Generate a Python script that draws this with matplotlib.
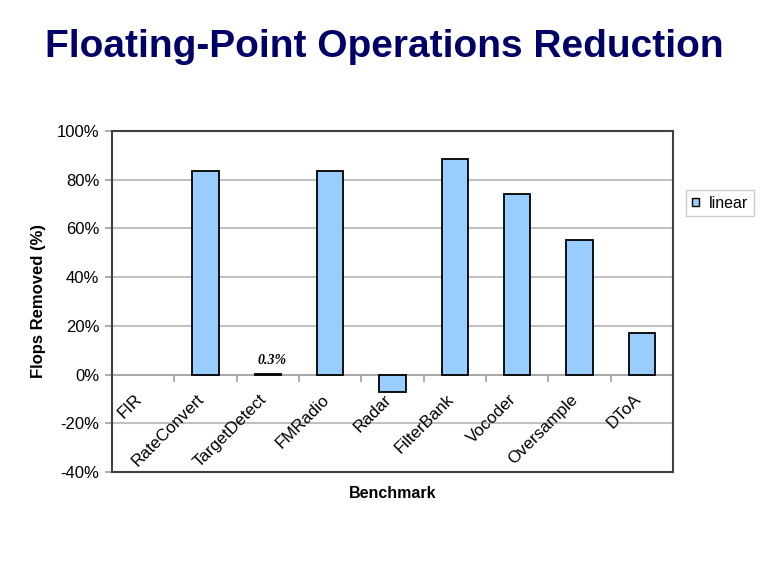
import matplotlib
matplotlib.use("Agg")
import matplotlib.pyplot as plt
import matplotlib.transforms as mtransforms
from matplotlib.patches import Rectangle, Patch
from matplotlib.ticker import FixedLocator, PercentFormatter

benchmarks = ["FIR", "RateConvert", "TargetDetect", "FMRadio", "Radar",
              "FilterBank", "Vocoder", "Oversample", "DToA"]
flops_removed = [0.0, 83.6, 0.3, 83.6, -7.1, 88.5, 74.1, 55.3, 17.1]
y_ticks = [-40, -20, 0, 20, 40, 60, 80, 100]
series_name = "linear"
annot_text = "0.3%"

plt.rcParams['font.family'] = ['Liberation Sans', 'DejaVu Sans']
plt.rcParams['axes.unicode_minus'] = False

fig = plt.figure(figsize=(7.68, 5.76), dpi=100)
ax = fig.add_axes([112/768, 1-472/576, (673-112)/768, (472-131)/576])

x = list(range(len(benchmarks)))
edge = ["none" if v == 0 else "black" for v in flops_removed]
ax.bar(x, flops_removed, width=0.42, color="#99CCFF", edgecolor=edge,
       linewidth=1.3, zorder=3, label=series_name)

ax.set_xlim(-0.5, len(benchmarks)-0.5)
ax.set_ylim(-40, 100)
ax.set_yticks(y_ticks)
ax.yaxis.set_major_formatter(PercentFormatter(decimals=0))
for t in y_ticks:
    if t != 0:
        ax.axhline(t, color="#C0C0C0", linewidth=1.5, zorder=1)

for s in ["top", "right", "left"]:
    ax.spines[s].set_visible(False)
ax.spines["bottom"].set_position(("data", 0))
ax.spines["bottom"].set_color("#A0A0A0")
ax.spines["bottom"].set_linewidth(1.3)
ax.spines["bottom"].set_zorder(2)

ax.add_patch(Rectangle((0, 0), 1, 1, transform=ax.transAxes, fill=False,
                       edgecolor="#404040", linewidth=1.5, zorder=4, clip_on=False))

ax.set_xticks(x)
ax.xaxis.set_minor_locator(FixedLocator([i + 0.5 for i in x[:-1]]))
ax.tick_params(axis='x', which='major', length=0, pad=8)
ax.tick_params(axis='x', which='minor', length=5, color="#A0A0A0", width=1.2)
ax.tick_params(axis='y', length=5, color="#A0A0A0", width=1.2, labelsize=12, pad=4)
ax.set_xticklabels(benchmarks, rotation=45, ha="right", va="top",
                   rotation_mode="anchor", fontsize=12.2)
shift = mtransforms.ScaledTranslation(-0.09, -0.06, fig.dpi_scale_trans)
for lab in ax.get_xticklabels():
    lab.set_transform(lab.get_transform() + shift)

ax.set_ylabel("Flops Removed (%)", fontsize=12, fontweight="bold", labelpad=8)
ax.set_xlabel("Benchmark", fontsize=11.5, fontweight="bold")
ax.xaxis.set_label_coords(0.5, (472-494)/341)
ax.xaxis.label.set_va("center")

ax.annotate(annot_text, xy=(2, flops_removed[2]), xytext=(3, 5),
            textcoords="offset points", ha="center", va="bottom",
            fontsize=10, fontweight="bold", fontstyle="italic",
            family=["Liberation Serif", "DejaVu Serif"])

handles = [Patch(facecolor="#99CCFF", edgecolor="black", linewidth=1.0, label=series_name)]
fig.legend(handles=handles, loc="center", bbox_to_anchor=(720/768, 1-203/576),
           fontsize=11.5, frameon=True, fancybox=False, edgecolor="#C0C0C0",
           handlelength=0.45, handleheight=0.45, handletextpad=0.6,
           borderpad=0.35, borderaxespad=0)

fig.suptitle("Floating-Point Operations Reduction", x=0.5, y=1-47/576, va="center",
             fontsize=28, fontweight="bold", color="#000066")

fig.savefig("out.png", dpi=100)
